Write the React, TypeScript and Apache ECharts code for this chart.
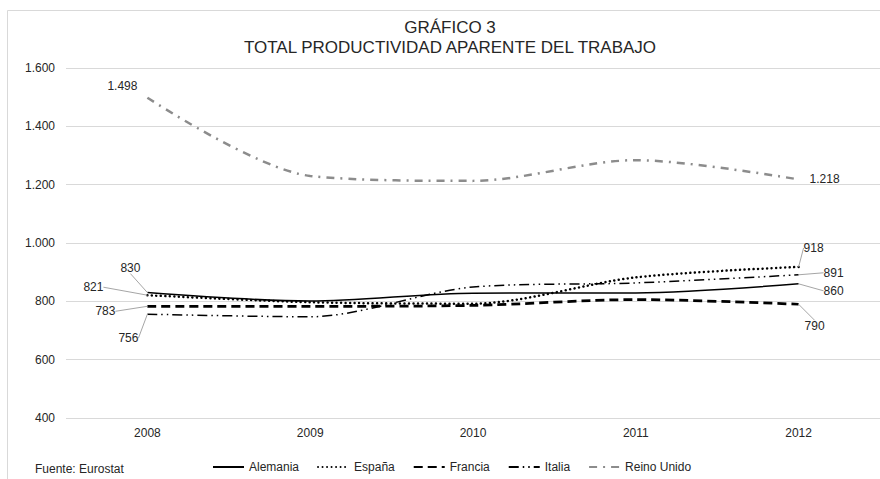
import React, { useEffect, useRef } from "react";
import * as echarts from "echarts";

const years = ["2008", "2009", "2010", "2011", "2012"];
const alemania = [830, 801, 828, 829, 860];
const espana = [821, 797, 792, 882, 918];
const francia = [783, 783, 786, 806, 790];
const italia = [756, 747, 849, 863, 891];
const reinoUnido = [1498, 1230, 1213, 1284, 1218];
const seriesNames = ["Alemania", "España", "Francia", "Italia", "Reino Unido"];
const yMin = 400;
const yMax = 1600;
const yInterval = 200;

// label offsets (dx, dy) from the data point, for first and last year
const labelOffsets: number[][][] = [
  [[-17, -25], [35, 7]],
  [[-54, -8], [15, -19]],
  [[-42, 5], [16, 22]],
  [[-19, 24], [35, -2]],
  [[-25, -12], [26, 0]],
];

const FONT = "'Liberation Sans', Arial, sans-serif";
const TXT = "#262626";

const fmt = (v: number) =>
  v >= 1000 ? Math.floor(v / 1000) + "." + String(v % 1000).padStart(3, "0") : String(v);

function mk(idx: number, values: number[], lineStyle: any) {
  return {
    name: seriesNames[idx],
    type: "line",
    smooth: 0.3,
    symbol: "none",
    lineStyle,
    itemStyle: { color: lineStyle.color },
    emphasis: { disabled: true },
    data: values.map((v, i) =>
      i === 0 || i === values.length - 1
        ? {
            value: v,
            symbol: "circle",
            symbolSize: 0.1,
            label: { show: true },
            labelLine: { show: idx !== 4 },
          }
        : v
    ),
    label: {
      show: false,
      position: "inside",
      align: "center",
      verticalAlign: "middle",
      formatter: (p: any) => fmt(p.value),
      color: TXT,
      fontSize: 12,
      fontFamily: FONT,
    },
    labelLine: { show: true, lineStyle: { color: "#a6a6a6", width: 1 } },
    labelLayout: (p: any) => {
      const o = labelOffsets[idx][p.dataIndex === 0 ? 0 : 1];
      return { dx: o[0], dy: o[1] };
    },
  };
}

export default function App() {
  const ref = useRef<HTMLDivElement>(null);
  useEffect(() => {
    if (!ref.current) return;
    const chart = echarts.init(ref.current, undefined, { renderer: "svg" });
    chart.setOption({
      animation: false,
      backgroundColor: "#ffffff",
      grid: { left: 66, top: 68, height: 350, width: 823, containLabel: false },
      xAxis: {
        type: "category",
        data: years,
        boundaryGap: true,
        axisLine: { show: false },
        axisTick: { show: false },
        axisLabel: { color: TXT, fontSize: 12, fontFamily: FONT, margin: 9 },
      },
      yAxis: {
        type: "value",
        min: yMin,
        max: yMax,
        interval: yInterval,
        axisLine: { show: false },
        axisTick: { show: false },
        axisLabel: { color: TXT, fontSize: 12, fontFamily: FONT, margin: 11, formatter: (v: number) => fmt(v) },
        splitLine: { lineStyle: { color: "#d9d9d9", width: 1 } },
      },
      legend: {
        left: 212,
        top: 461,
        itemWidth: 31,
        itemHeight: 10,
        itemGap: 18,
        padding: 0,
        itemStyle: { color: "rgba(0,0,0,0)", borderWidth: 0, borderColor: "rgba(0,0,0,0)" },
        textStyle: { color: TXT, fontSize: 12, fontFamily: FONT },
        data: seriesNames,
      },
      series: [
        mk(0, alemania, { color: "#000000", width: 1.5, type: "solid" }),
        mk(1, espana, { color: "#000000", width: 2.5, type: [0.01, 4.5], cap: "round" }),
        mk(2, francia, { color: "#000000", width: 2.75, type: [9, 5] }),
        mk(3, italia, { color: "#000000", width: 1.5, type: [10, 4, 1.5, 4, 1.5, 4] }),
        mk(4, reinoUnido, { color: "#8c8c8c", width: 2.5, type: [8, 6, 2, 6] }),
      ],
      graphic: [
        {
          type: "rect",
          silent: true,
          shape: { x: 7.5, y: 10.5, width: 890, height: 480 },
          style: { fill: "none", stroke: "#d9d9d9", lineWidth: 1 },
          z: -10,
        },
        {
          type: "text",
          x: 450,
          y: 27,
          style: { text: "GRÁFICO 3", fontSize: 17, fontFamily: FONT, fill: TXT, align: "center", verticalAlign: "middle" },
        },
        {
          type: "text",
          x: 450,
          y: 47,
          style: {
            text: "TOTAL PRODUCTIVIDAD APARENTE DEL TRABAJO",
            fontSize: 17,
            fontFamily: FONT,
            fill: TXT,
            align: "center",
            verticalAlign: "middle",
          },
        },
        {
          type: "text",
          x: 35,
          y: 469,
          style: { text: "Fuente: Eurostat", fontSize: 12, fontFamily: FONT, fill: TXT, align: "left", verticalAlign: "middle" },
        },
      ],
    });
    return () => chart.dispose();
  }, []);
  return (
    <div
      ref={ref}
      style={{ position: "fixed", left: 0, top: 0, width: 880, height: 479 }}
    />
  );
}
